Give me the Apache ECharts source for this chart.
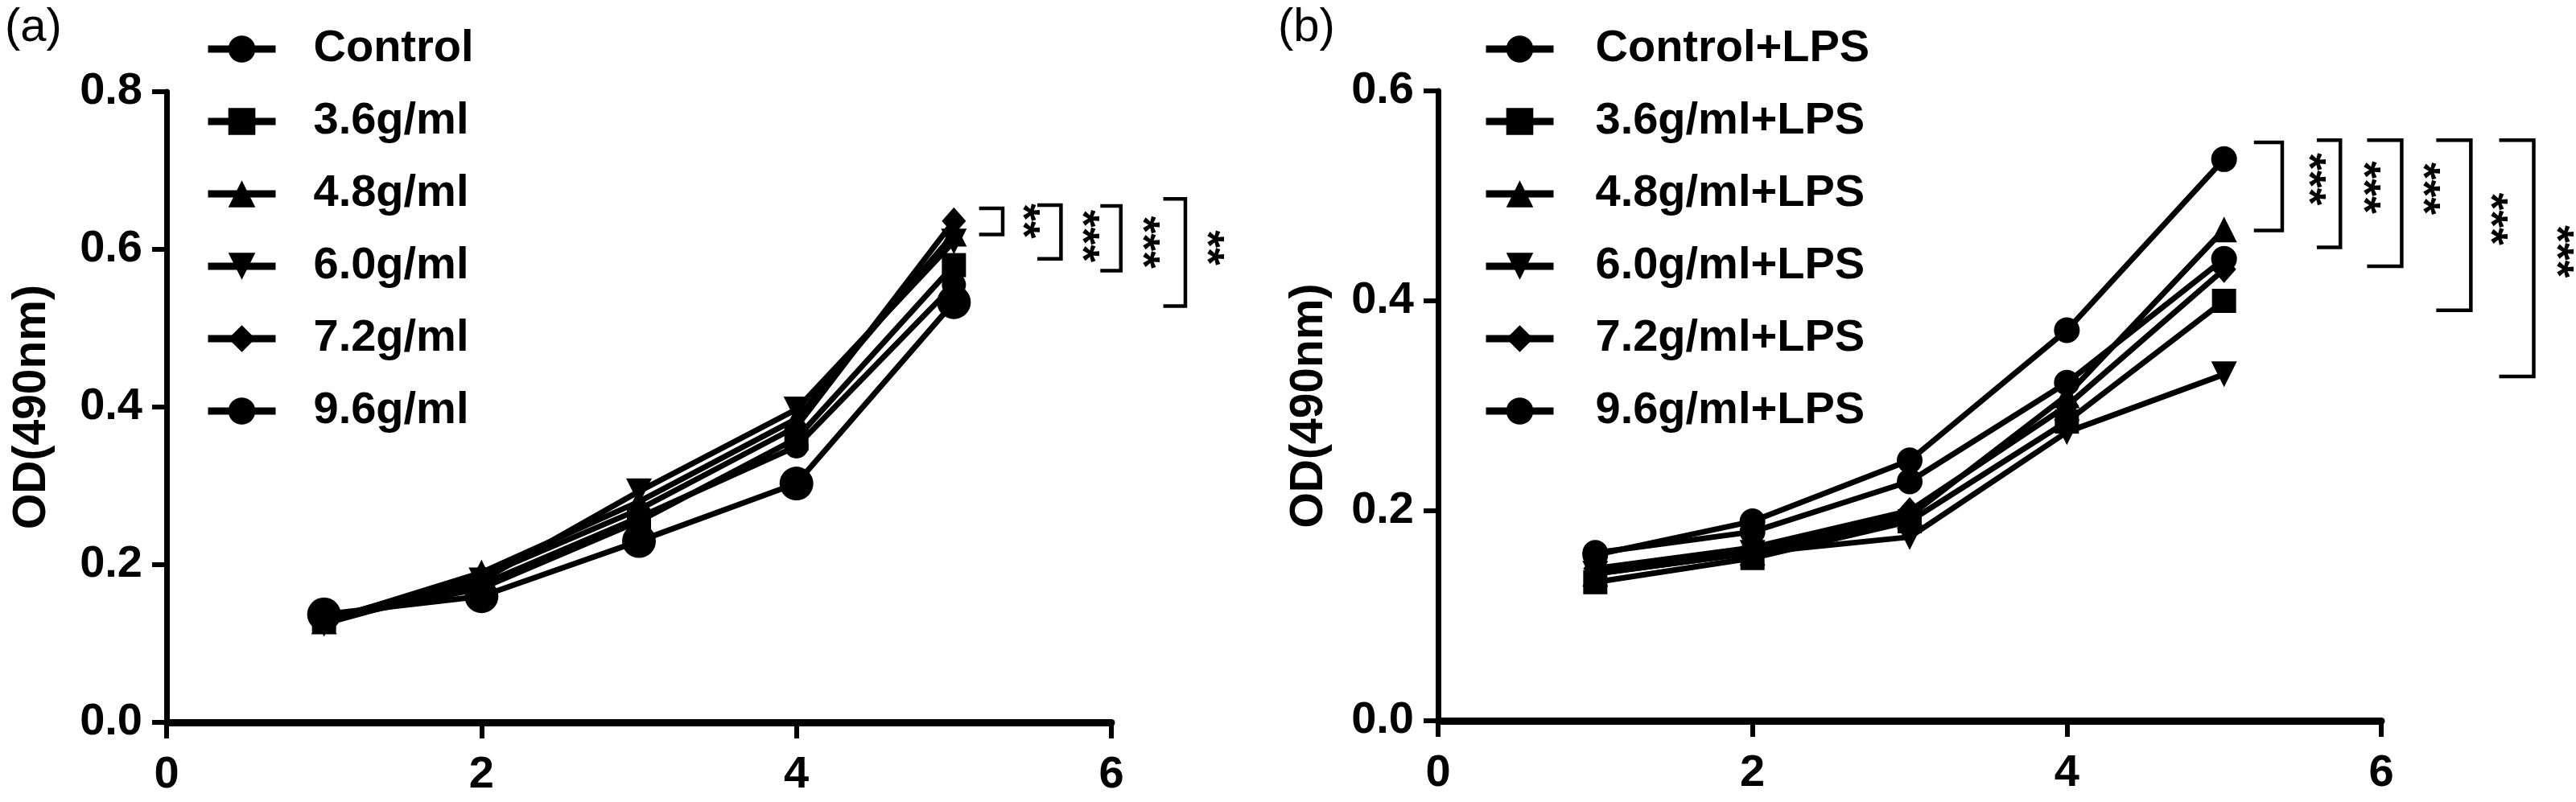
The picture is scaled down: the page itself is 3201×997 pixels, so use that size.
<!DOCTYPE html>
<html><head><meta charset="utf-8">
<script src="https://cdn.jsdelivr.net/npm/echarts@6/dist/echarts.min.js"></script>
<style>html,body{margin:0;padding:0;background:#fff}#c{width:3201px;height:997px}</style>
</head><body><div id="c"></div><script>
// ---------- data ----------
const days = [1, 2, 3, 4, 5];
const namesA = ['Control', '3.6g/ml', '4.8g/ml', '6.0g/ml', '7.2g/ml', '9.6g/ml'];
const namesB = ['Control+LPS', '3.6g/ml+LPS', '4.8g/ml+LPS', '6.0g/ml+LPS', '7.2g/ml+LPS', '9.6g/ml+LPS'];
const a_control = [0.130, 0.175, 0.260, 0.350, 0.555];
const a_36 = [0.130, 0.170, 0.255, 0.360, 0.580];
const a_48 = [0.128, 0.190, 0.280, 0.385, 0.620];
const a_60 = [0.125, 0.180, 0.293, 0.397, 0.610];
const a_72 = [0.130, 0.185, 0.270, 0.375, 0.636];
const a_96 = [0.137, 0.160, 0.230, 0.303, 0.533];
const b_control = [0.158, 0.190, 0.248, 0.372, 0.535];
const b_36 = [0.132, 0.155, 0.190, 0.285, 0.400];
const b_48 = [0.140, 0.160, 0.195, 0.310, 0.468];
const b_60 = [0.140, 0.160, 0.175, 0.275, 0.330];
const b_72 = [0.145, 0.165, 0.200, 0.300, 0.430];
const b_96 = [0.160, 0.180, 0.228, 0.322, 0.440];
const xTickLabels = ['0', '2', '4', '6'];
const yTickLabelsA = ['0.0', '0.2', '0.4', '0.6', '0.8'];
const yTickLabelsB = ['0.0', '0.2', '0.4', '0.6'];
// significance brackets: [x from, x to, y top, y bottom] in data units
const bracketsA = [[5.16, 5.31, 0.652, 0.619], [5.53, 5.68, 0.656, 0.588], [5.93, 6.06, 0.655, 0.573], [6.33, 6.47, 0.664, 0.528]];
const starsA = [['**', 5.43, 0.636], ['***', 5.81, 0.617], ['***', 6.19, 0.609], ['**', 6.60, 0.602]];
const bracketsB = [[5.19, 5.37, 0.551, 0.467], [5.59, 5.74, 0.553, 0.451], [5.91, 6.13, 0.553, 0.433], [6.35, 6.57, 0.553, 0.391], [6.75, 6.97, 0.553, 0.328]];
const starsB = [['***', 5.53, 0.516], ['***', 5.88, 0.508], ['***', 6.26, 0.507], ['***', 6.69, 0.478], ['***', 7.11, 0.447]];

// ---------- styles ----------
const FONT = "'Liberation Sans', Arial, Helvetica, sans-serif";
const symbols = ['circle', 'rect', 'triangle', 'triangle', 'diamond', 'circle'];
const rotates = [0, 0, 0, 180, 0, 0];
const sizesA = [30, 30, 32, 32, [30, 34], 42];
const sizesB = [32, 30, 32, 32, [30, 34], 32];
const seriesA = [a_control, a_36, a_48, a_60, a_72, a_96];
const seriesB = [b_control, b_36, b_48, b_60, b_72, b_96];

function mkSeries(names, vals, sizes, idx) {
  return names.map((n, i) => ({
    name: n, type: 'line', xAxisIndex: idx, yAxisIndex: idx,
    data: days.map((d, j) => [d, vals[i][j]]),
    symbol: symbols[i], symbolRotate: rotates[i], symbolSize: sizes[i],
    showAllSymbol: true,
    lineStyle: { color: '#000', width: 7 },
    itemStyle: { color: '#000', borderWidth: 0 },
    emphasis: { disabled: true }, animation: false
  }));
}
function xAxis(idx) {
  return {
    type: 'value', gridIndex: idx, min: 0, max: 6, interval: 2,
    axisLine: { show: true, onZero: false, lineStyle: { color: '#000', width: 9 } },
    axisTick: { show: true, length: 20, lineStyle: { color: '#000', width: 6 } },
    axisLabel: { color: '#000', fontSize: 56, fontWeight: 'bold', fontFamily: FONT, margin: 38,
      formatter: v => xTickLabels[Math.round(v / 2)] },
    splitLine: { show: false }
  };
}
function yAxis(idx, max, labels, gap) {
  return {
    type: 'value', gridIndex: idx, min: 0, max: max, interval: 0.2,
    name: 'OD(490nm)', nameLocation: 'middle', nameGap: gap,
    nameTextStyle: { color: '#000', fontSize: 57, fontWeight: 'bold', fontFamily: FONT },
    axisLine: { show: true, onZero: false, lineStyle: { color: '#000', width: 7 } },
    axisTick: { show: true, length: 18, lineStyle: { color: '#000', width: 6 } },
    axisLabel: { color: '#000', fontSize: 56, fontWeight: 'bold', fontFamily: FONT, margin: 30,
      formatter: v => labels[Math.round(v / 0.2)] },
    splitLine: { show: false }
  };
}
function legend(names, left, textPad) {
  return {
    data: names, orient: 'vertical', left: left, top: 28,
    itemWidth: 84, itemHeight: 42, itemGap: 34,
    lineStyle: { width: 9, color: '#000' },
    textStyle: { color: '#000', fontSize: 56, fontWeight: 'bold', fontFamily: FONT, lineHeight: 56, padding: [0, 0, 0, textPad] },
    selectedMode: false
  };
}

const chart = echarts.init(document.getElementById('c'), null, { renderer: 'canvas' });
chart.setOption({
  animation: false,
  backgroundColor: '#fff',
  grid: [
    { left: 207, top: 114, width: 1174, height: 784, containLabel: false, outerBoundsMode: 'none' },
    { left: 1787, top: 113, width: 1172, height: 783, containLabel: false, outerBoundsMode: 'none' }
  ],
  xAxis: [xAxis(0), xAxis(1)],
  yAxis: [yAxis(0, 0.8, yTickLabelsA, 138), yAxis(1, 0.6, yTickLabelsB, 131)],
  legend: [legend(namesA, 249, 42), legend(namesB, 1837, 47)],
  series: mkSeries(namesA, seriesA, sizesA, 0).concat(mkSeries(namesB, seriesB, sizesB, 1)),
  graphic: []
});

function annotations(grid, brackets, stars) {
  const els = [];
  brackets.forEach(b => {
    const p1 = chart.convertToPixel({ gridIndex: grid }, [b[0], b[2]]);
    const p2 = chart.convertToPixel({ gridIndex: grid }, [b[1], b[3]]);
    els.push({ type: 'polyline', silent: true,
      shape: { points: [[p1[0], p1[1]], [p2[0], p1[1]], [p2[0], p2[1]], [p1[0], p2[1]]] },
      style: { stroke: '#000', lineWidth: 4.5, fill: null } });
  });
  stars.forEach(s => {
    const p = chart.convertToPixel({ gridIndex: grid }, [s[1], s[2]]);
    els.push({ type: 'text', silent: true, x: p[0], y: p[1], rotation: -Math.PI / 2,
      style: { text: s[0], x: 0, y: 0, align: 'center', verticalAlign: 'middle', fill: '#000',
        font: 'bold 56px ' + FONT } });
  });
  return els;
}
const labelsTop = [
  { type: 'text', left: 6, top: 6, style: { text: '(a)', fill: '#000', font: '58px ' + FONT } },
  { type: 'text', left: 1588, top: 6, style: { text: '(b)', fill: '#000', font: '58px ' + FONT } }
];
chart.setOption({ graphic: labelsTop.concat(annotations(0, bracketsA, starsA), annotations(1, bracketsB, starsB)) });
</script></body></html>
